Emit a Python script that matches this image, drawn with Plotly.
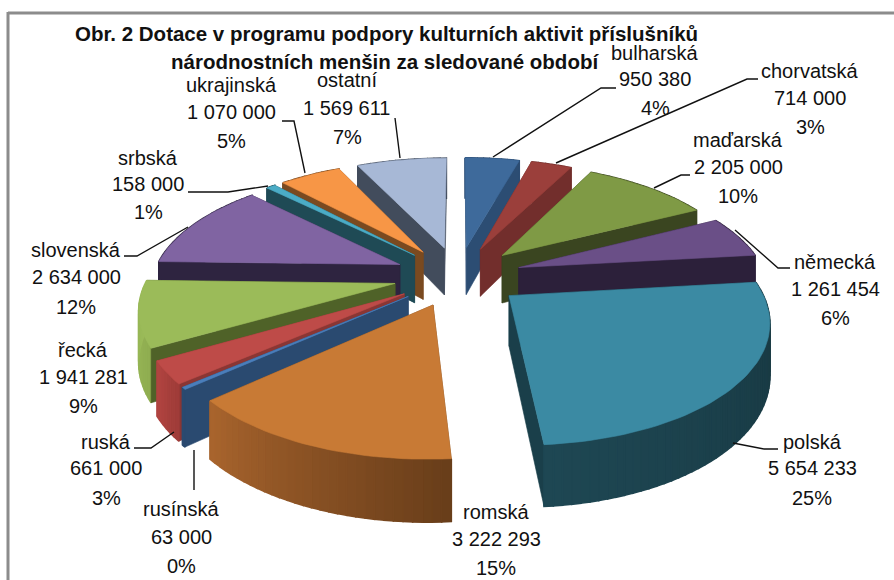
import math
import plotly.graph_objects as go

# ---- data ----
names = ["bulharská", "chorvatská", "maďarská", "německá", "polská", "romská", "rusínská",
         "ruská", "řecká", "slovenská", "srbská", "ukrajinská", "ostatní"]
amounts = [950380, 714000, 2205000, 1261454, 5654233, 3222293, 63000,
           661000, 1941281, 2634000, 158000, 1070000, 1569611]
percent_labels = ["4%", "3%", "10%", "6%", "25%", "15%", "0%", "3%", "9%", "12%", "1%", "5%", "7%"]
title_lines = ["Obr. 2 Dotace v programu podpory kulturních aktivit příslušníků",
               "národnostních menšin za sledované období"]

# ---- styles ----
top_colors = ["#3E6A9B", "#9B3F3B", "#7F9A45", "#6A4F87", "#3B8AA3", "#C87A35", "#4A7EBB",
              "#BE4B48", "#9BBB59", "#8064A2", "#4BACC6", "#F79646", "#A7B8D6"]
wall_colors = ["#2C4D73", "#722E2C", "#3A4520", "#2C203A", "#1A3F4A", "#7A4A20", "#2A4A70",
               "#8A3634", "#4F6228", "#2E2440", "#1F4A55", "#7A4A20", "#424C5C"]
outer_from = ["#2C4D73", "#722E2C", "#3A4520", "#2C203A", "#1E4753", "#A8642D", "#2A4A70",
              "#B04440", "#9BBB59", "#2E2440", "#1F4A55", "#7A4A20", "#424C5C"]
outer_to = ["#2C4D73", "#722E2C", "#3A4520", "#2C203A", "#17363F", "#693E1A", "#2A4A70",
            "#A03C39", "#8FAD50", "#2E2440", "#1F4A55", "#7A4A20", "#424C5C"]
FONT = "Liberation Sans, Arial, sans-serif"

# ---- projection of the tilted pie to page pixels ----
CX, CY, A, B, K, DEPTH, PULL = 458, 276, 115, 247, 0.178, 49, 0.26


def project(u, v, drop=False):
    s = 1 / (1 + K * v)
    return CX + B * u * s, CY - A * v * s + (DEPTH * s if drop else 0)


def hex_mix(c1, c2, t):
    a = [int(c1[i:i + 2], 16) for i in (1, 3, 5)]
    b = [int(c2[i:i + 2], 16) for i in (1, 3, 5)]
    return "#" + "".join(f"{round(x + (y - x) * t):02x}" for x, y in zip(a, b))


fig = go.Figure()


def poly(points, color, edge=0.6):
    xs = [p[0] for p in points] + [points[0][0]]
    ys = [p[1] for p in points] + [points[0][1]]
    fig.add_trace(go.Scatter(x=xs, y=ys, mode="lines", fill="toself", fillcolor=color,
                             line=dict(color=color, width=edge), hoverinfo="skip", showlegend=False))


total = sum(amounts)
slices, cum = [], 0.0
for i, val in enumerate(amounts):
    t0 = cum / total * 2 * math.pi
    cum += val
    t1 = cum / total * 2 * math.pi
    mid = (t0 + t1) / 2
    ox, oy = PULL * math.sin(mid), PULL * math.cos(mid)
    n = max(3, int((t1 - t0) / 0.03))
    arc = [(ox + math.sin(t0 + (t1 - t0) * j / n), oy + math.cos(t0 + (t1 - t0) * j / n)) for j in range(n + 1)]
    slices.append((oy, i, (ox, oy), arc))

for _, i, apex, arc in sorted(slices, key=lambda s: -s[0]):
    faces = []
    for edge in (arc[0], arc[-1]):
        faces.append(((apex[1] + edge[1]) / 2, "radial", edge))
    faces.append((sum(p[1] for p in arc) / len(arc), "outer", None))
    for _, kind, edge in sorted(faces, key=lambda f: -f[0]):
        if kind == "radial":
            poly([project(*apex), project(*edge), project(*edge, True), project(*apex, True)], wall_colors[i])
        else:
            for j in range(len(arc) - 1):
                poly([project(*arc[j]), project(*arc[j + 1]), project(*arc[j + 1], True), project(*arc[j], True)],
                     hex_mix(outer_to[i], outer_from[i], j / max(1, len(arc) - 2)), edge=1.6)
    poly([project(*apex)] + [project(*p) for p in arc], top_colors[i])

# ---- label placement (page pixels) ----
label_x = [655, 810, 738, 835, 812, 496, 181, 106, 83, 76, 148, 231, 347]
label_y = [[53, 79, 108], [71, 98, 127], [140, 167, 196], [262, 289, 318], [442, 468, 498], [512, 539, 568],
           [509, 537, 566], [442, 468, 498], [350, 377, 406], [250, 277, 307], [158, 184, 212], [85, 112, 141],
           [80, 108, 137]]
leaders = [[(616, 88), (601, 88), (493, 157)], [(758, 79), (747, 79), (556, 163)], [(690, 175), (681, 175), (654, 188)],
           [(790, 268), (778, 268), (735, 230)], [(778, 449), (764, 449), (733, 443)], None,
           [(194, 490), (194, 450)], [(134, 448), (151, 448), (174, 432)], None,
           [(124, 256), (137, 256), (188, 227)], [(188, 192), (228, 192), (268, 186)],
           [(282, 121), (294, 121), (305, 173)], [(395, 118), (400, 158)]]

for line in leaders:
    if line:
        fig.add_trace(go.Scatter(x=[p[0] for p in line], y=[p[1] for p in line], mode="lines",
                                 line=dict(color="#111111", width=1.4), hoverinfo="skip", showlegend=False))

annotations = []
for i, name in enumerate(names):
    value = f"{amounts[i]:,}".replace(",", " ")
    for text, y in zip((name, value, percent_labels[i]), label_y[i]):
        annotations.append(dict(x=label_x[i], y=y, text=text, showarrow=False, xanchor="center", yanchor="middle",
                                font=dict(family=FONT, size=20, color="#111111")))
for text, x, y in zip(title_lines, (386, 385), (33, 61)):
    annotations.append(dict(x=x, y=y, text=f"<b>{text}</b>", showarrow=False, xanchor="center", yanchor="middle",
                            font=dict(family=FONT, size=20.5, color="#111111")))

fig.update_layout(
    width=894, height=580, margin=dict(l=0, r=0, t=0, b=0),
    paper_bgcolor="white", plot_bgcolor="white", showlegend=False,
    xaxis=dict(range=[0, 894], visible=False, fixedrange=True),
    yaxis=dict(range=[580, 0], visible=False, fixedrange=True),
    annotations=annotations,
    shapes=[dict(type="line", x0=8, y0=13, x1=894, y1=13, line=dict(color="#8C8C8C", width=3)),
            dict(type="line", x0=8, y0=12, x1=8, y1=580, line=dict(color="#8C8C8C", width=3))],
)
fig.write_html("out.html", config={"displayModeBar": False},
               post_script="document.body.style.margin='0';")
